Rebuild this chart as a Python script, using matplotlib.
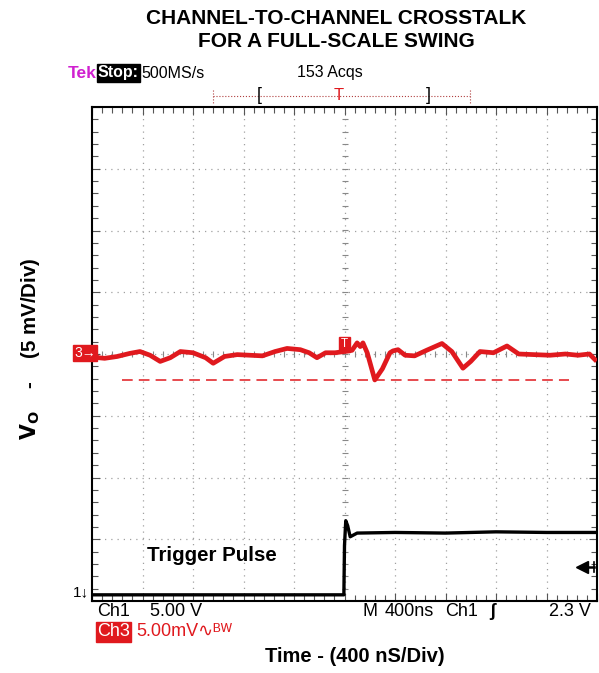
import numpy as np
import matplotlib.pyplot as plt
from matplotlib.ticker import MultipleLocator

plt.rcParams['font.family'] = ['Liberation Sans', 'DejaVu Sans']

# channel 3 (crosstalk), time in ns, amplitude in mV
ch3_t = [-2000, -1950, -1900, -1800, -1700, -1620, -1540, -1460, -1380, -1300, -1200,
         -1100, -1040, -950, -850, -750, -650, -550, -455, -350, -280,
         -218, -150, -75, 0, 60, 100, 125, 146, 180, 240, 300,
         360, 384, 424, 480, 555, 650, 772, 850, 938, 1000, 1073,
         1180, 1287, 1380, 1500, 1627, 1750, 1850, 1940, 1984]
ch3_mv = [0.0, -0.3, -0.35, -0.2, 0.05, 0.2, -0.1, -0.6, -0.3, 0.2, 0.1,
          -0.3, -0.75, -0.2, -0.05, -0.1, -0.15, 0.2, 0.45, 0.35, 0.1,
          -0.3, 0.1, 0.1, 0.2, 0.3, 0.9, 0.6, 0.9, 0.1, -2.1, -1.2,
          0.1, 0.25, 0.35, -0.1, -0.15, 0.3, 0.85, 0.2, -1.15, -0.6, 0.2,
          0.1, 0.65, 0.0, -0.05, -0.1, 0.0, -0.1, 0.0, -0.45]

# channel 1 (trigger pulse), time in ns, amplitude in V
ch1_t = [-2000, -5, 0, 10, 25, 45, 100, 400, 800, 1200, 1600, 2000]
ch1_v = [0.0, 0.0, 4.0, 6.0, 5.6, 4.7, 5.0, 5.05, 5.0, 5.1, 5.05, 5.05]

ch3_scale = 5.0   # mV/div
ch1_scale = 5.0   # V/div
ch1_gnd = -3.9    # div
dash_level = -2.1  # mV

red = '#e0191e'

fig = plt.figure(figsize=(5.99, 6.73), dpi=100)
ax = fig.add_axes([92 / 599, 1 - 601 / 673, 505 / 599, 494 / 673])
ax.set_xlim(-2000, 2000)
ax.set_ylim(-4, 4)

# graticule
for i in range(1, 10):
    ax.axvline(-2000 + 400 * i, color='#a0a0a0', lw=0.9, ls=(0, (1, 4)), zorder=1)
for j in range(-3, 4):
    ax.axhline(j, color='#a0a0a0', lw=0.9, ls=(0, (1, 4)), zorder=1)
ax.plot(np.arange(-2000, 2001, 80), np.zeros(51), '|', color='#888888', ms=5, mew=0.8, zorder=1)
ax.plot(np.zeros(41), np.arange(-4, 4.01, 0.2), '_', color='#888888', ms=5, mew=0.8, zorder=1)

ax.xaxis.set_major_locator(MultipleLocator(400))
ax.xaxis.set_minor_locator(MultipleLocator(80))
ax.yaxis.set_major_locator(MultipleLocator(1))
ax.yaxis.set_minor_locator(MultipleLocator(0.2))
ax.tick_params(which='both', direction='in', top=True, right=True,
               labelbottom=False, labelleft=False, color='#555555')
ax.tick_params(which='major', length=6, width=0.8)
ax.tick_params(which='minor', length=4, width=0.8)
for s in ax.spines.values():
    s.set_linewidth(1.5)

# traces
ax.hlines(dash_level / ch3_scale, -1760, 1780, color=red, lw=1.1, ls=(0, (7, 4)), zorder=2)
ax.plot(ch3_t, np.array(ch3_mv) / ch3_scale, color=red, lw=3.4, zorder=3)
ax.plot(ch1_t, np.array(ch1_v) / ch1_scale + ch1_gnd, color='black', lw=2.4, zorder=3)

# trigger box and level marker
ax.text(0, 0.06, 'T', color='white', fontsize=8.5, ha='center', va='bottom', zorder=5,
        bbox=dict(boxstyle='square,pad=0.15', fc=red, ec=red))
ax.plot([1885], [-3.45], marker='<', color='black', ms=8, zorder=4)
ax.plot([1890, 1975], [-3.45, -3.45], color='black', lw=1.8, zorder=4)
ax.plot([1975, 1975], [-3.53, -3.37], color='black', lw=1.2, zorder=4)

ax.text(-1565, -3.27, 'Trigger Pulse', fontsize=14.8, fontweight='bold',
        ha='left', va='center')

# channel markers left of screen
fig.text(74 / 599, 1 - 353 / 673, '3\u2192', color='white', fontsize=10, ha='left', va='center',
         bbox=dict(boxstyle='square,pad=0.1', fc=red, ec=red))
fig.text(73 / 599, 1 - 592 / 673, '1\u2193', fontsize=11, ha='left', va='center')

# scope header
fs = 11.5
fig.text(68 / 599, 1 - 73 / 673, 'Tek', color='#d020d0', fontsize=12.5, fontweight='bold',
         ha='left', va='center')
fig.text(98 / 599, 1 - 73 / 673, 'Stop:', color='white', fontsize=fs, fontweight='bold',
         ha='left', va='center',
         bbox=dict(boxstyle='square,pad=0.08', fc='black', ec='black'))
fig.text(141 / 599, 1 - 73 / 673, '500MS/s', fontsize=fs, ha='left', va='center')
fig.text(297 / 599, 1 - 73 / 673, '153 Acqs', fontsize=fs, ha='left', va='center')
fig.lines.append(plt.Line2D([213 / 599, 470 / 599], [1 - 96 / 673, 1 - 96 / 673],
                            transform=fig.transFigure, color='#b04040', lw=0.8, ls=':'))
for xb in [213, 470]:
    fig.lines.append(plt.Line2D([xb / 599, xb / 599], [1 - 90 / 673, 1 - 103 / 673],
                                transform=fig.transFigure, color='#b04040', lw=0.8, ls=':'))
fig.text(259 / 599, 1 - 96 / 673, '[', fontsize=13, ha='center', va='center')
fig.text(428 / 599, 1 - 96 / 673, ']', fontsize=13, ha='center', va='center')
fig.text(339 / 599, 1 - 96 / 673, 'T', color=red, fontsize=12, ha='center', va='center')

# scope footer
ff = 13
fig.text(97 / 599, 1 - 611 / 673, 'Ch1', fontsize=ff, ha='left', va='center')
fig.text(150 / 599, 1 - 611 / 673, '5.00 V', fontsize=ff, ha='left', va='center')
fig.text(362 / 599, 1 - 611 / 673, 'M', fontsize=ff, ha='left', va='center')
fig.text(385 / 599, 1 - 611 / 673, '400ns', fontsize=ff, ha='left', va='center')
fig.text(445 / 599, 1 - 611 / 673, 'Ch1', fontsize=ff, ha='left', va='center')
fig.text(489 / 599, 1 - 611 / 673, '\u0283', fontsize=ff, ha='left', va='center', fontweight='bold')
fig.text(591 / 599, 1 - 611 / 673, '2.3 V', fontsize=ff, ha='right', va='center')
fig.text(97 / 599, 1 - 632 / 673, 'Ch3', color='white', fontsize=ff,
         ha='left', va='center', bbox=dict(boxstyle='square,pad=0.06', fc=red, ec=red))
fig.text(136 / 599, 1 - 632 / 673, '5.00mV\u223f\u1d2e\u1d42', color=red, fontsize=ff,
         ha='left', va='center')

# titles and labels
fig.text(336 / 599, 1 - 30 / 673, 'CHANNEL-TO-CHANNEL CROSSTALK\nFOR A FULL-SCALE SWING',
         fontsize=15, fontweight='bold', ha='center', va='center', linespacing=1.3)
fig.text(355 / 599, 1 - 657 / 673, 'Time - (400 nS/Div)', fontsize=14.5, fontweight='bold',
         ha='center', va='center')
fig.text(30 / 599, 1 - 349 / 673, r'$\mathbf{V_O}$    -    (5 mV/Div)', fontsize=14.8,
         fontweight='bold', rotation=90, ha='center', va='center')

fig.savefig('out.png', dpi=100)
